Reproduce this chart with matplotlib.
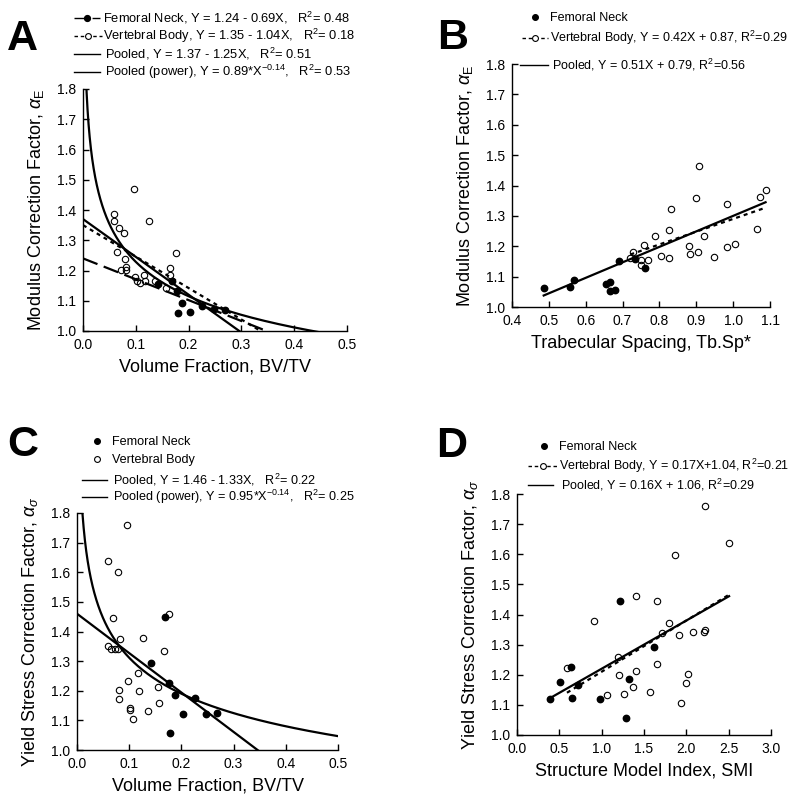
import numpy as np
import matplotlib
matplotlib.use('Agg')
import matplotlib.pyplot as plt
from matplotlib.lines import Line2D

plt.rcParams['font.family'] = ['Liberation Sans', 'DejaVu Sans']
plt.rcParams['mathtext.fontset'] = 'custom'
plt.rcParams['mathtext.rm'] = 'Liberation Sans'
plt.rcParams['mathtext.it'] = 'Liberation Sans:italic'
plt.rcParams['mathtext.bf'] = 'Liberation Sans:bold'

# ---------------- data ----------------
# Panel A: modulus correction factor vs BV/TV
a_fn_x = [0.142, 0.168, 0.1775, 0.187, 0.180, 0.2027, 0.2254, 0.248, 0.268]
a_fn_y = [1.157, 1.166, 1.133, 1.094, 1.058, 1.062, 1.083, 1.072, 1.068]
a_vb_x = [0.096, 0.0587, 0.0587, 0.068, 0.0777, 0.1256, 0.0644, 0.080, 0.0814, 0.081,
          0.0714, 0.176, 0.165, 0.099, 0.103, 0.108, 0.116, 0.118, 0.136, 0.157, 0.165]
a_vb_y = [1.469, 1.388, 1.364, 1.342, 1.325, 1.364, 1.261, 1.238, 1.212, 1.203,
          1.201, 1.258, 1.207, 1.179, 1.165, 1.160, 1.185, 1.166, 1.166, 1.141, 1.185]
a_fn_fit = (1.24, -0.69)      # intercept, slope
a_vb_fit = (1.35, -1.04)
a_pool_fit = (1.37, -1.25)
a_pow_fit = (0.89, -0.14)     # coefficient, exponent

# Panel B: modulus correction factor vs Tb.Sp*
b_fn_x = [0.486, 0.558, 0.568, 0.654, 0.665, 0.666, 0.680, 0.689, 0.733, 0.760]
b_fn_y = [1.064, 1.066, 1.090, 1.075, 1.083, 1.054, 1.056, 1.152, 1.159, 1.128]
b_vb_x = [0.721, 0.728, 0.751, 0.757, 0.769, 0.750, 0.788, 0.805, 0.826, 0.826, 0.831, 0.880,
          0.883, 0.898, 0.904, 0.907, 0.921, 0.947, 0.983, 0.984, 1.006, 1.066, 1.073, 1.088]
b_vb_y = [1.160, 1.181, 1.139, 1.203, 1.154, 1.154, 1.233, 1.167, 1.253, 1.161, 1.322, 1.200,
          1.175, 1.359, 1.181, 1.465, 1.235, 1.163, 1.196, 1.339, 1.208, 1.257, 1.361, 1.385]
b_vb_fit = (0.87, 0.42)
b_pool_fit = (0.79, 0.51)

# Panel C: yield stress correction factor vs BV/TV
c_fn_x = [0.169, 0.1415, 0.1767, 0.1876, 0.226, 0.2036, 0.248, 0.2676, 0.179]
c_fn_y = [1.448, 1.295, 1.227, 1.186, 1.174, 1.120, 1.120, 1.125, 1.057]
c_vb_x = [0.096, 0.0595, 0.078, 0.0685, 0.176, 0.0595, 0.066, 0.072, 0.079, 0.082, 0.126,
          0.166, 0.1165, 0.0986, 0.118, 0.0807, 0.0813, 0.156, 0.157, 0.136, 0.102, 0.102, 0.107]
c_vb_y = [1.760, 1.638, 1.600, 1.445, 1.460, 1.351, 1.341, 1.341, 1.341, 1.373, 1.379,
          1.333, 1.261, 1.234, 1.200, 1.204, 1.171, 1.213, 1.159, 1.132, 1.143, 1.135, 1.106]
c_pool_fit = (1.46, -1.33)
c_pow_fit = (0.95, -0.14)

# Panel D: yield stress correction factor vs SMI
d_fn_x = [0.385, 0.503, 0.641, 0.653, 0.716, 0.975, 1.215, 1.321, 1.282, 1.624]
d_fn_y = [1.119, 1.175, 1.226, 1.124, 1.167, 1.119, 1.446, 1.186, 1.058, 1.293]
d_vb_x = [0.590, 0.908, 1.058, 1.195, 1.199, 1.266, 1.372, 1.404, 1.400, 1.573, 1.652, 1.659,
          1.718, 1.797, 1.864, 1.915, 1.939, 1.998, 2.021, 2.080, 2.206, 2.222, 2.505, 2.225]
d_vb_y = [1.222, 1.377, 1.132, 1.260, 1.200, 1.136, 1.159, 1.213, 1.460, 1.143, 1.235, 1.446,
          1.340, 1.373, 1.598, 1.333, 1.106, 1.171, 1.204, 1.343, 1.343, 1.350, 1.637, 1.760]
d_vb_fit = (1.04, 0.17)
d_pool_fit = (1.06, 0.16)

y_ticks = [1.0, 1.1, 1.2, 1.3, 1.4, 1.5, 1.6, 1.7, 1.8]

# ---------------- figure ----------------
W, H = 800, 801
fig = plt.figure(figsize=(8.0, 8.01), dpi=100)

def axes_px(l, r, t, b):
    return fig.add_axes([l / W, 1 - b / H, (r - l) / W, (b - t) / H])

def style(ax, xlim, xticks, xlabel, ylabel):
    for s in ('top', 'right'):
        ax.spines[s].set_visible(False)
    for s in ('left', 'bottom'):
        ax.spines[s].set_linewidth(1.0)
    ax.set_xlim(*xlim)
    ax.set_ylim(1.0, 1.8)
    ax.set_xticks(xticks)
    ax.set_xticklabels(['%.1f' % v for v in xticks])
    ax.set_yticks(y_ticks)
    ax.set_yticklabels(['%.1f' % v for v in y_ticks])
    ax.tick_params(direction='in', length=4, width=1.0, labelsize=10, pad=5)
    ax.set_xlabel(xlabel, fontsize=13, labelpad=5)
    ax.set_ylabel(ylabel, fontsize=13, labelpad=8)

MS = 4.6
def filled(ax, x, y):
    ax.plot(x, y, ls='none', marker='o', ms=MS, mfc='black', mec='black', zorder=4)

def opened(ax, x, y):
    ax.plot(x, y, ls='none', marker='o', ms=MS, mfc='none', mec='black', mew=0.8, zorder=4)

LW = 1.6
LONG = (0, (7, 3))
SHORT = (0, (1.8, 1.8))

# Panel A
axA = axes_px(83, 347, 89, 331)
style(axA, (0, 0.5), [0.0, 0.1, 0.2, 0.3, 0.4, 0.5], 'Volume Fraction, BV/TV',
      r'Modulus Correction Factor, $\alpha_{\mathrm{E}}$')
opened(axA, a_vb_x, a_vb_y)
filled(axA, a_fn_x, a_fn_y)
xl = np.linspace(0, 0.5, 200)
axA.plot(xl, a_fn_fit[0] + a_fn_fit[1] * xl, color='k', lw=LW, ls=LONG)
axA.plot(xl, a_vb_fit[0] + a_vb_fit[1] * xl, color='k', lw=LW, ls=SHORT)
axA.plot(xl, a_pool_fit[0] + a_pool_fit[1] * xl, color='k', lw=LW)
xp = np.geomspace(0.004, 0.5, 400)
axA.plot(xp, a_pow_fit[0] * xp ** a_pow_fit[1], color='k', lw=LW)

# Panel B
axB = axes_px(512, 770, 64, 307)
style(axB, (0.4, 1.1), [0.4, 0.5, 0.6, 0.7, 0.8, 0.9, 1.0, 1.1], 'Trabecular Spacing, Tb.Sp*',
      r'Modulus Correction Factor, $\alpha_{\mathrm{E}}$')
opened(axB, b_vb_x, b_vb_y)
filled(axB, b_fn_x, b_fn_y)
xb = np.array([min(b_fn_x + b_vb_x), max(b_fn_x + b_vb_x)])
axB.plot(xb, b_pool_fit[0] + b_pool_fit[1] * xb, color='k', lw=LW)
xbv = np.array([min(b_vb_x), max(b_vb_x)])
axB.plot(xbv, b_vb_fit[0] + b_vb_fit[1] * xbv, color='k', lw=LW, ls=SHORT)

# Panel C
axC = axes_px(77, 338, 513, 750)
style(axC, (0, 0.5), [0.0, 0.1, 0.2, 0.3, 0.4, 0.5], 'Volume Fraction, BV/TV',
      r'Yield Stress Correction Factor, $\alpha_{\sigma}$')
opened(axC, c_vb_x, c_vb_y)
filled(axC, c_fn_x, c_fn_y)
axC.plot(xl, c_pool_fit[0] + c_pool_fit[1] * xl, color='k', lw=LW)
axC.plot(xp, c_pow_fit[0] * xp ** c_pow_fit[1], color='k', lw=LW)

# Panel D
axD = axes_px(517, 771, 494, 735)
style(axD, (0, 3.0), [0.0, 0.5, 1.0, 1.5, 2.0, 2.5, 3.0], 'Structure Model Index, SMI',
      r'Yield Stress Correction Factor, $\alpha_{\sigma}$')
opened(axD, d_vb_x, d_vb_y)
filled(axD, d_fn_x, d_fn_y)
xd = np.array([min(d_fn_x + d_vb_x), max(d_fn_x + d_vb_x)])
axD.plot(xd, d_pool_fit[0] + d_pool_fit[1] * xd, color='k', lw=LW)
xdv = np.array([min(d_vb_x), max(d_vb_x)])
axD.plot(xdv, d_vb_fit[0] + d_vb_fit[1] * xdv, color='k', lw=LW, ls=SHORT)

# ---------------- legends ----------------
def entry(handle, label, x0, x1, xt, y, fs):
    fspx = fs * 100 / 72
    fig.legend([handle], [label], loc='center left',
               bbox_to_anchor=(x0 / W, 1 - y / H), bbox_transform=fig.transFigure,
               frameon=False, borderpad=0, borderaxespad=0,
               handlelength=(x1 - x0) / fspx, handletextpad=(xt - x1) / fspx,
               fontsize=fs)

def h_dot(fill=True):
    return Line2D([], [], ls='none', marker='o', ms=4.2,
                  mfc='black' if fill else 'white', mec='black', mew=0.8)

h_fn_line = Line2D([], [], color='k', lw=1.0, ls=(0, (9, 4)), marker='o', ms=4.2)
h_vb_line = Line2D([], [], color='k', lw=1.0, ls=(0, (2.5, 2)), marker='o', ms=4.2,
                   mfc='white', mew=0.8)
h_solid = Line2D([], [], color='k', lw=1.0)

FA, FB, FC, FD = 9.3, 9.0, 9.1, 9.0
entry(h_fn_line, 'Femoral Neck, Y = 1.24 - 0.69X,   R$^2$= 0.48', 74, 100, 103, 18, FA)
entry(h_vb_line, 'Vertebral Body, Y = 1.35 - 1.04X,   R$^2$= 0.18', 74, 102, 103, 36, FA)
entry(h_solid, 'Pooled, Y = 1.37 - 1.25X,   R$^2$= 0.51', 74, 100, 105, 54, FA)
entry(h_solid, 'Pooled (power), Y = 0.89*X$^{-0.14}$,   R$^2$= 0.53', 74, 100, 105, 72, FA)

entry(h_dot(True), 'Femoral Neck', 529, 541, 550, 18, FB)
entry(h_vb_line, 'Vertebral Body, Y = 0.42X + 0.87, R$^2$=0.29', 522, 548, 550, 38, FB)
entry(h_solid, 'Pooled, Y = 0.51X + 0.79, R$^2$=0.56', 520, 548, 552, 65, FB)

entry(h_dot(True), 'Femoral Neck', 91, 103, 112, 442, FC)
entry(h_dot(False), 'Vertebral Body', 91, 103, 112, 460, FC)
entry(h_solid, 'Pooled, Y = 1.46 - 1.33X,   R$^2$= 0.22', 82, 107, 113, 480, FC)
entry(h_solid, 'Pooled (power), Y = 0.95*X$^{-0.14}$,   R$^2$= 0.25', 82, 107, 113, 497, FC)

entry(h_dot(True), 'Femoral Neck', 538, 550, 559, 447, FD)
entry(h_vb_line, 'Vertebral Body, Y = 0.17X+1.04, R$^2$=0.21', 528, 557, 559, 466, FD)
entry(h_solid, 'Pooled, Y = 0.16X + 1.06, R$^2$=0.29', 528, 553, 561, 485, FD)

# ---------------- panel letters ----------------
for lab, cx, cy in [('A', 22, 39), ('B', 453, 38), ('C', 23, 445), ('D', 452, 446)]:
    fig.text(cx / W, 1 - cy / H, lab, fontsize=31, fontweight='bold', ha='center', va='center')

fig.savefig('out.png', dpi=100)
